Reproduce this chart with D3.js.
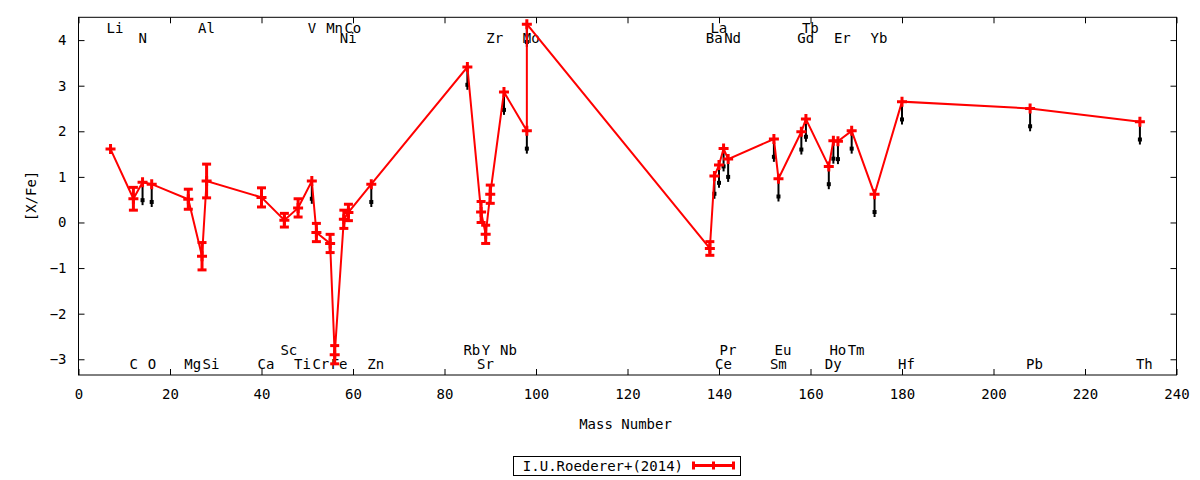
<!DOCTYPE html>
<html>
<head>
<meta charset="utf-8">
<script src="https://cdn.jsdelivr.net/npm/d3@7"></script>
<style>
  body { margin: 0; background: #fff; }
  text { font-family: "DejaVu Sans Mono", monospace; font-size: 14px; fill: #000; }
</style>
</head>
<body>
<svg id="chart" width="1200" height="480"></svg>
<script>
// abundance points, in the order they are joined by the line
const elements = ["Li","C","N","O","Mg","Al","Si","Ca","Sc","Ti","V","Cr","Mn","Fe","Ni","Co","Zn",
    "Rb","Sr","Y","Zr","Nb","Mo","Mo","Ba","La","Ce","Pr","Nd","Sm","Eu","Gd","Tb","Dy","Ho","Er",
    "Tm","Yb","Hf","Pb","Th"];
const massNumber = [7,12,14,16,24,27,28,40,45,48,51,52,55,56,58,59,64,
    85,88,89,90,93,98,98,138,139,140,141,142,152,153,158,159,164,165,166,
    169,174,180,208,232];
const xFe = [1.61,0.52,0.88,0.84,0.51,-0.74,0.91,0.55,0.05,0.32,0.91,-0.22,-0.46,-2.90,0.07,0.22,0.84,
    3.41,0.23,-0.26,0.62,2.86,2.01,4.35,-0.57,1.02,1.26,1.62,1.39,1.83,0.96,1.99,2.27,1.23,1.79,1.78,
    2.01,0.62,2.65,2.50,2.21];
const xFeErr = [0,0.25,0,0,0.22,0.30,0.37,0.21,0.15,0.20,0,0.20,0.20,0.20,0.20,0.18,0,
    0,0.23,0.20,0.20,0,0,0,0.15,0,0,0,0,0,0,0,0,0,0,0,
    0,0,0,0,0];
// 1 = drawn with a black downward arrow
const isLimit = [0,0,1,1,0,0,0,0,0,0,1,0,0,0,0,0,1,
    1,0,0,0,1,1,1,0,1,1,1,1,1,1,1,1,1,1,1,
    1,1,1,1,1];
const arrowLength = 0.5;

// element name labels: row 0/1 at the top, 2/3 at the bottom
const labelNames = ["Li","Al","V","Mn","Co","La","Tb",
    "N","Ni","Zr","Mo","Ba","Nd","Gd","Er","Yb",
    "Sc","Rb","Y","Nb","Pr","Eu","Ho","Tm",
    "C","O","Mg","Si","Ca","Ti","Cr","Fe","Zn","Sr","Ce","Sm","Dy","Hf","Pb","Th"];
const labelMass = [7,27,51,55,59,139,159,
    14,58,90,98,138,142,158,166,174,
    45,85,89,93,141,153,165,169,
    12,16,24,28,40,48,52,56,64,88,140,152,164,180,208,232];
const labelRow = [0,0,0,0,0,0,0,
    1,1,1,1,1,1,1,1,1,
    2,2,2,2,2,2,2,2,
    3,3,3,3,3,3,3,3,3,3,3,3,3,3,3,3];

const xTicks = d3.range(0, 241, 20);
const yTicks = [-3,-2,-1,0,1,2,3,4];
const legendLabel = "I.U.Roederer+(2014)";

const margin = { left: 78.5, right: 23.5, top: 17.3, bottom: 105 };
const W = 1200, H = 480;
const red = "#ff0000";

const svg = d3.select("#chart");
const x = d3.scaleLinear().domain([0, 240]).range([margin.left, W - margin.right]);
const y = d3.scaleLinear().domain([-3.345, 4.5]).range([H - margin.bottom, margin.top]);
const x0 = x.range()[0], x1 = x.range()[1], y0 = y.range()[0], y1 = y.range()[1];

const points = elements.map((el, i) => ({
    el: el, m: massNumber[i], v: xFe[i], e: xFeErr[i], lim: isLimit[i]
}));

// axes, ticks pointing inward on all four sides
function styleAxis(g) {
    g.select(".domain").remove();
    g.selectAll(".tick line").attr("stroke", "#000");
}
svg.append("g").attr("transform", `translate(0,${y0})`)
    .call(d3.axisBottom(x).tickValues(xTicks).tickSize(-6).tickPadding(14))
    .call(styleAxis)
    .selectAll("text").style("font-size", "14px").style("font-family", null);
svg.append("g").attr("transform", `translate(0,${y1})`)
    .call(d3.axisTop(x).tickValues(xTicks).tickSize(-6).tickFormat(""))
    .call(styleAxis);
svg.append("g").attr("transform", `translate(${x0},0)`)
    .call(d3.axisLeft(y).tickValues(yTicks).tickSize(-6).tickPadding(12))
    .call(styleAxis)
    .selectAll("text").style("font-size", "14px").style("font-family", null);
svg.append("g").attr("transform", `translate(${x1},0)`)
    .call(d3.axisRight(y).tickValues(yTicks).tickSize(-6).tickFormat(""))
    .call(styleAxis);
svg.selectAll(".tick text").attr("font-size", null).attr("font-family", null);

svg.append("rect")
    .attr("x", x0).attr("y", y1)
    .attr("width", x1 - x0).attr("height", y0 - y1)
    .attr("fill", "none").attr("stroke", "#000").attr("stroke-width", 1);

// element labels
const rowY = [27.5, 37.5, 350, 363.5];
svg.append("g").selectAll("text")
    .data(labelNames)
    .join("text")
    .attr("x", (d, i) => x(labelMass[i]) - 4)
    .attr("y", (d, i) => rowY[labelRow[i]])
    .attr("dominant-baseline", "central")
    .attr("text-anchor", "start")
    .text(d => d);

// black arrows
const arrows = svg.append("g");
const lims = points.filter(p => p.lim);
arrows.selectAll("line")
    .data(lims)
    .join("line")
    .attr("x1", d => x(d.m)).attr("x2", d => x(d.m))
    .attr("y1", d => y(d.v)).attr("y2", d => y(d.v - arrowLength))
    .attr("stroke", "#000").attr("stroke-width", 2);
arrows.selectAll("rect")
    .data(lims)
    .join("rect")
    .attr("x", d => x(d.m) - 2)
    .attr("y", d => y(d.v - arrowLength) - 7)
    .attr("width", 4).attr("height", 4)
    .attr("fill", "#000");

// connecting line
svg.append("path")
    .datum(points)
    .attr("d", d3.line().x(d => x(d.m)).y(d => y(d.v)))
    .attr("fill", "none")
    .attr("stroke", red)
    .attr("stroke-width", 2);

// error bars with caps
const errs = points.filter(p => p.e > 0);
const eb = svg.append("g").attr("stroke", red).attr("stroke-width", 3);
eb.selectAll("line.bar")
    .data(errs)
    .join("line")
    .attr("class", "bar")
    .attr("x1", d => x(d.m)).attr("x2", d => x(d.m))
    .attr("y1", d => y(d.v - d.e)).attr("y2", d => y(d.v + d.e));
eb.selectAll("line.capLo")
    .data(errs)
    .join("line")
    .attr("class", "capLo")
    .attr("x1", d => x(d.m) - 4.5).attr("x2", d => x(d.m) + 4.5)
    .attr("y1", d => y(d.v - d.e)).attr("y2", d => y(d.v - d.e));
eb.selectAll("line.capHi")
    .data(errs)
    .join("line")
    .attr("class", "capHi")
    .attr("x1", d => x(d.m) - 4.5).attr("x2", d => x(d.m) + 4.5)
    .attr("y1", d => y(d.v + d.e)).attr("y2", d => y(d.v + d.e));

// plus markers
const marks = svg.append("g").attr("stroke", red).attr("stroke-width", 3);
marks.selectAll("path")
    .data(points)
    .join("path")
    .attr("d", d => {
        const px = x(d.m), py = y(d.v);
        return `M${px - 5},${py}H${px + 5}M${px},${py - 5}V${py + 5}`;
    });

// axis titles
svg.append("text")
    .attr("x", (x0 + x1) / 2 - 2)
    .attr("y", 424)
    .attr("text-anchor", "middle")
    .attr("dominant-baseline", "central")
    .text("Mass Number");
svg.append("text")
    .attr("transform", "translate(31,196) rotate(-90)")
    .attr("text-anchor", "middle")
    .attr("dominant-baseline", "central")
    .text("[X/Fe]");

// legend
const lg = svg.append("g");
lg.append("rect")
    .attr("x", 513.5).attr("y", 456.5)
    .attr("width", 227).attr("height", 19)
    .attr("fill", "none").attr("stroke", "#000").attr("stroke-width", 1);
lg.append("text")
    .attr("x", 683).attr("y", 465.5)
    .attr("text-anchor", "end")
    .attr("dominant-baseline", "central")
    .text(legendLabel);
lg.append("path")
    .attr("d", "M692,465.5H735M693.5,461.5V469.5M713.5,461.5V469.5M733.5,461.5V469.5")
    .attr("stroke", red).attr("stroke-width", 3).attr("fill", "none");
</script>
</body>
</html>
